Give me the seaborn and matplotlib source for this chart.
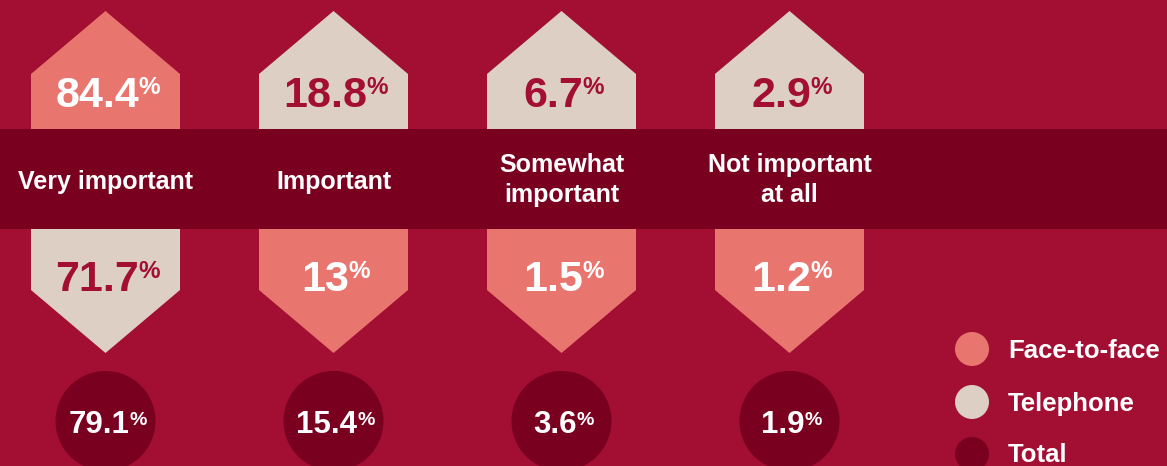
import numpy as np
import pandas as pd
import matplotlib
matplotlib.use("Agg")
import matplotlib.pyplot as plt
from matplotlib.patches import Polygon, Rectangle
import seaborn as sns

# ── Data ──────────────────────────────────────────────────────────
categories   = ["Very important", "Important", "Somewhat\nimportant", "Not important\nat all"]
face_to_face = [84.4, 13, 1.5, 1.2]
telephone    = [71.7, 18.8, 6.7, 2.9]
total        = [79.1, 15.4, 3.6, 1.9]
legend_names = ["Face-to-face", "Telephone", "Total"]

# ── Style ─────────────────────────────────────────────────────────
BG     = "#A30E33"
BAND   = "#7A0020"
SALMON = "#E8766F"
BEIGE  = "#DDCFC4"
WHITE  = "#FFFFFF"

sns.set_theme(style="white")
plt.rcParams["font.family"] = ["Liberation Sans", "DejaVu Sans"]
plt.rcParams["font.weight"] = "bold"

W, H = 1167, 466
PX = 100 / 72  # px per point at dpi 100
CAP = 0.716    # cap height of Arial-like font, in em

fig = plt.figure(figsize=(W / 100, H / 100), dpi=100, facecolor=BG)
ax = fig.add_axes([0, 0, 1, 1])
renderer = fig.canvas.get_renderer()

x0, step, half = 105.5, 228, 74.5
centers = [x0 + i * step for i in range(len(categories))]


def reset_axes():
    ax.set_xlim(0, W)
    ax.set_ylim(H, 0)
    ax.set_facecolor(BG)
    ax.axis("off")


reset_axes()


def pct_label(cx, base, value, color, size, psize, gap=-1):
    """Number with a small raised % sign, centred as one group (1 data unit = 1 px)."""
    t1 = ax.text(0, base, f"{value:g}", color=color, fontsize=size,
                 fontweight="bold", ha="left", va="baseline", zorder=6)
    t2 = ax.text(0, base, "%", color=color, fontsize=psize,
                 fontweight="bold", ha="left", va="baseline", zorder=6)
    w1 = t1.get_window_extent(renderer).width
    w2 = t2.get_window_extent(renderer).width
    left = cx + 2 - (w1 + gap + w2) / 2
    digit_top = base - CAP * size * PX
    t1.set_position((left, base))
    t2.set_position((left + w1 + gap, digit_top + 0.72 * psize * PX))


# ── Pentagons ─────────────────────────────────────────────────────
for i, cx in enumerate(centers):
    top_is_face = face_to_face[i] >= telephone[i]
    top_val = face_to_face[i] if top_is_face else telephone[i]
    bot_val = telephone[i] if top_is_face else face_to_face[i]
    top_col = SALMON if top_is_face else BEIGE
    bot_col = BEIGE if top_is_face else SALMON

    up = Polygon([(cx - half, 130), (cx - half, 74), (cx, 11),
                  (cx + half, 74), (cx + half, 130)],
                 closed=True, facecolor=top_col, edgecolor="none", zorder=2)
    dn = Polygon([(cx - half, 228), (cx + half, 228), (cx + half, 290),
                  (cx, 353), (cx - half, 290)],
                 closed=True, facecolor=bot_col, edgecolor="none", zorder=2)
    ax.add_patch(up)
    ax.add_patch(dn)

    pct_label(cx, 107, top_val, WHITE if top_col == SALMON else BG, 31, 17.5)
    pct_label(cx, 291, bot_val, WHITE if bot_col == SALMON else BG, 31, 17.5)

# ── Band with category labels ─────────────────────────────────────
ax.add_patch(Rectangle((0, 129), W, 100, facecolor=BAND, edgecolor="none", zorder=4))
for cx, cat in zip(centers, categories):
    lines = cat.split("\n")
    bases = [189] if len(lines) == 1 else [172, 202]
    for line, b in zip(lines, bases):
        ax.text(cx, b, line, color=WHITE, fontsize=18, fontweight="bold",
                ha="center", va="baseline", zorder=5)

# ── Total circles ─────────────────────────────────────────────────
df_total = pd.DataFrame({"x": centers, "y": [421] * len(centers), "total": total})
sns.scatterplot(data=df_total, x="x", y="y", s=(100 * 0.72) ** 2,
                color=BAND, edgecolor="none", ax=ax, zorder=3, legend=False)
reset_axes()
for cx, v in zip(centers, total):
    pct_label(cx, 433, v, WHITE, 22.5, 14, gap=0.5)

# ── Legend ────────────────────────────────────────────────────────
df_leg = pd.DataFrame({"x": [972] * 3, "y": [349, 402, 454], "name": legend_names})
sns.scatterplot(data=df_leg, x="x", y="y", hue="name",
                palette=[SALMON, BEIGE, BAND], s=(34 * 0.72) ** 2,
                edgecolor="none", ax=ax, zorder=3, legend=False)
reset_axes()
for y, name in zip(df_leg["y"], legend_names):
    ax.text(1008, y + 8.5, name, color=WHITE, fontsize=18.5, fontweight="bold",
            ha="left", va="baseline", zorder=5)

fig.savefig("out.png", dpi=100, facecolor=BG)
